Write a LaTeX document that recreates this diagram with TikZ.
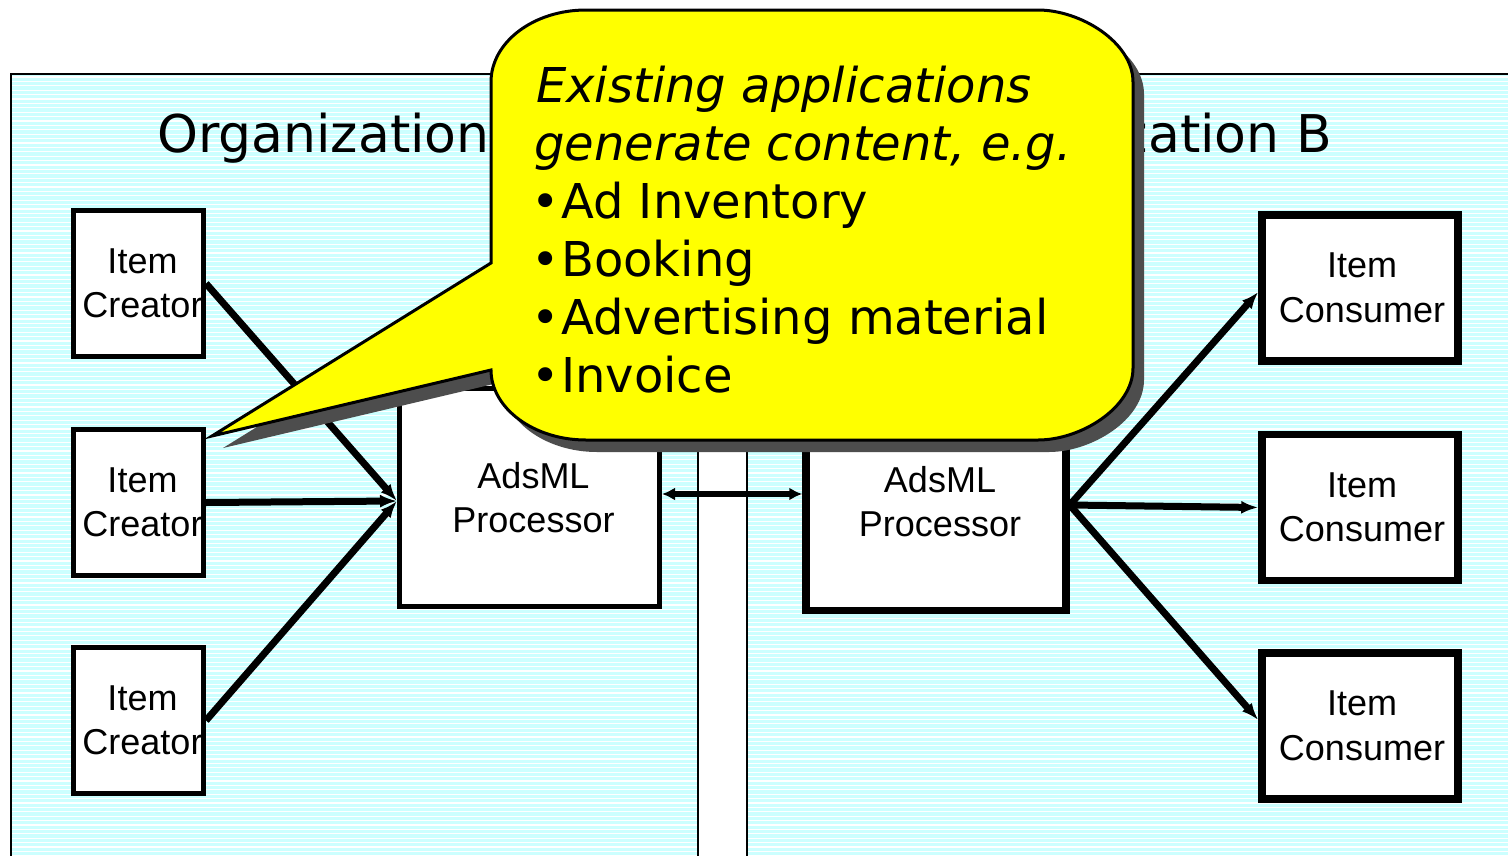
\documentclass[tikz,border=0pt]{standalone}
\usepackage{fontspec}
\setmainfont{Liberation Sans}
\newfontfamily\verd{DejaVu Sans}
\usetikzlibrary{arrows.meta,calc}

\definecolor{panelcyan}{HTML}{CCFFFF}
\definecolor{bubbleyellow}{HTML}{FFFF00}
\definecolor{bubbleshadow}{HTML}{4D4D4D}

% outline of the speech bubble (pixel-like units, y pointing down)
\newcommand\bubbleoutline{%
  (491,82) -- (491,263) -- (212,436) -- (491,370)
  .. controls (491,408) and (533.5,440) .. (586,440)
  -- (1038,440)
  .. controls (1080.5,440) and (1133,408) .. (1133,368)
  -- (1133,82)
  .. controls (1133,42.2) and (1080.5,10) .. (1038,10)
  -- (586,10)
  .. controls (533.5,10) and (491,42.2) .. (491,82) -- cycle}

\begin{document}
\begin{tikzpicture}[x=1pt,y=-1pt,
  creatorbox/.style={draw, line width=5pt, fill=white, minimum width=130pt,
    minimum height=146pt, inner sep=0pt},
  consumerbox/.style={draw, line width=7.5pt, fill=white, minimum width=196pt,
    minimum height=146pt, inner sep=0pt},
  procbox/.style={draw, fill=white, minimum width=260pt, minimum height=218pt,
    inner sep=0pt},
  boxtext/.style={inner sep=0pt, align=center, font=\fontsize{36}{44.5}\selectfont},
  link/.style={line width=7pt, -{Latex[length=17pt,width=13pt]}},
  titletext/.style={inner sep=0pt, font=\verd\fontsize{52}{60}\selectfont},
  bubbletext/.style={inner sep=0pt, font=\verd\fontsize{48}{58}\selectfont},
]
\useasboundingbox (0,0) rectangle (1508,855);
\clip (0,0) rectangle (1508,855);

% two organisation panels with striped cyan background
\fill[panelcyan] (11,74) rectangle (698,870);
\fill[panelcyan] (747,74) rectangle (1520,870);
\draw[white, line width=1.3pt]
  foreach \yy in {77,81.4,...,860} {(12,\yy) -- (697,\yy) (748,\yy) -- (1520,\yy)};
\draw[line width=2.5pt] (11,870) -- (11,74) -- (698,74) -- (698,870);
\draw[line width=2.5pt] (747,870) -- (747,74) -- (1520,74);

% panel titles
\node[titletext, anchor=base west] (titleA) at (157,152) {Organization A};
\node[titletext, anchor=base east] (titleB) at (1332,152) {Organization B};

% item creators
\node[creatorbox] (cr1) at (138.5,283.5) {};
\node[creatorbox] (cr2) at (138.5,502.5) {};
\node[creatorbox] (cr3) at (138.5,720.5) {};
\node[boxtext] (cr1t) at ([xshift=4pt]cr1.center) {Item\\Creator};
\node[boxtext] (cr2t) at ([xshift=4pt]cr2.center) {Item\\Creator};
\node[boxtext] (cr3t) at ([xshift=4pt]cr3.center) {Item\\Creator};

% item consumers
\node[consumerbox] (co1) at (1360,288) {};
\node[consumerbox] (co2) at (1360,507.5) {};
\node[consumerbox] (co3) at (1360,726) {};
\node[boxtext] (co1t) at ([xshift=2pt]co1.center) {Item\\Consumer};
\node[boxtext] (co2t) at ([xshift=2pt]co2.center) {Item\\Consumer};
\node[boxtext] (co3t) at ([xshift=2pt]co3.center) {Item\\Consumer};

% AdsML processors
\node[procbox, line width=5pt] (procA) at (529.5,497.5) {};
\node[procbox, line width=7.5pt] (procB) at (936,501.5) {};
\node[boxtext] (procAt) at ([xshift=4pt]procA.center) {AdsML\\Processor};
\node[boxtext] (procBt) at ([xshift=4pt]procB.center) {AdsML\\Processor};

% creators feed processor A
\coordinate (inA) at ([yshift=-3.5pt]procA.west);
\draw[link] (cr1.east) -- (inA);
\draw[link] (cr2.east) -- (inA);
\draw[link] (cr3.east) -- (inA);

% processor B feeds consumers
\coordinate (outB) at ([yshift=-3.5pt]procB.east);
\draw[link] (outB) -- ([yshift=-4pt]co1.west);
\draw[link] (outB) -- (co2.west);
\draw[link] (outB) -- ([yshift=6pt]co3.west);

% exchange between the two processors
\draw[line width=6.5pt, {Latex[length=13pt,width=13pt]}-{Latex[length=13pt,width=13pt]}]
  ([yshift=3.5pt]procA.east) -- ([yshift=3.5pt]procA.east -| procB.west);

% speech bubble with drop shadow
\fill[bubbleshadow, shift={(11,12)}] \bubbleoutline;
\draw[fill=bubbleyellow, line width=3pt, line join=miter] \bubbleoutline;

\node[bubbletext, anchor=base west] (b1) at (536,102) {\itshape Existing applications};
\node[bubbletext, anchor=base west] (b2) at (534,160) {\itshape generate content, e.g.};
\node[bubbletext, anchor=base] (d3) at (546,218) {•};
\node[bubbletext, anchor=base west] (b3) at (561,218) {Ad Inventory};
\node[bubbletext, anchor=base] (d4) at (546,276) {•};
\node[bubbletext, anchor=base west] (b4) at (561,276) {Booking};
\node[bubbletext, anchor=base] (d5) at (546,334) {•};
\node[bubbletext, anchor=base west] (b5) at (561,334) {Advertising material};
\node[bubbletext, anchor=base] (d6) at (546,392) {•};
\node[bubbletext, anchor=base west] (b6) at (561,392) {Invoice};
\end{tikzpicture}
\end{document}
